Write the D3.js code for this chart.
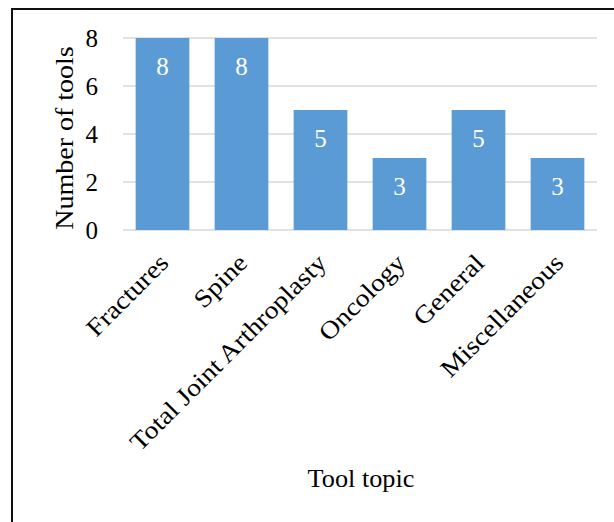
<!DOCTYPE html>
<html>
<head>
<meta charset="utf-8">
<script src="https://cdn.jsdelivr.net/npm/d3@7"></script>
<style>
  html, body { margin: 0; padding: 0; background: #fff; }
  svg { display: block; }
  text { font-family: "Liberation Serif", "DejaVu Serif", serif; }
</style>
</head>
<body>
<svg id="chart" width="614" height="522"></svg>
<script>
// Tools per topic
const categories = ["Fractures", "Spine", "Total Joint Arthroplasty", "Oncology", "General", "Miscellaneous"];
const toolCounts = [8, 8, 5, 3, 5, 3];
const yTicks = [0, 2, 4, 6, 8];
const yTitle = "Number of tools";
const xTitle = "Tool topic";

const svg = d3.select("#chart");
const fontSize = 25;

// book-style serif runs wider than the fallback face
function stretch(factor) {
  return sel => sel.each(function () {
    const w = this.getComputedTextLength();
    d3.select(this).attr("textLength", w * factor).attr("lengthAdjust", "spacingAndGlyphs");
  });
}

// outer frame (runs off the right and bottom edges)
svg.append("rect")
  .attr("x", 12).attr("y", 9)
  .attr("width", 640).attr("height", 560)
  .attr("fill", "none")
  .attr("stroke", "#111")
  .attr("stroke-width", 2);

const x = d3.scaleBand()
  .domain(categories)
  .range([123, 597])
  .paddingInner(0.32)
  .paddingOuter(0.16);

const y = d3.scaleLinear()
  .domain([0, 8])
  .range([230, 38]);

// horizontal gridlines
svg.append("g")
  .selectAll("line")
  .data(yTicks)
  .join("line")
  .attr("x1", 123).attr("x2", 597)
  .attr("y1", d => y(d)).attr("y2", d => y(d))
  .attr("stroke", "#d9d9d9")
  .attr("stroke-width", 1.5);

// y axis labels
const yAxis = d3.axisLeft(y).tickValues(yTicks).tickSize(0).tickPadding(0).tickFormat(d3.format("d"));
const gy = svg.append("g").attr("transform", "translate(98,0)").call(yAxis);
gy.select(".domain").remove();
gy.selectAll("text")
  .attr("font-size", fontSize)
  .attr("fill", "#000");

// bars
svg.append("g")
  .selectAll("rect")
  .data(categories)
  .join("rect")
  .attr("x", d => x(d))
  .attr("y", (d, i) => y(toolCounts[i]))
  .attr("width", x.bandwidth())
  .attr("height", (d, i) => y(0) - y(toolCounts[i]))
  .attr("fill", "#5b9bd5");

// value labels inside the bars
svg.append("g")
  .selectAll("text")
  .data(categories)
  .join("text")
  .attr("x", d => x(d) + x.bandwidth() / 2)
  .attr("y", (d, i) => y(toolCounts[i]) + 37)
  .attr("text-anchor", "middle")
  .attr("font-size", fontSize)
  .attr("fill", "#fff")
  .text((d, i) => toolCounts[i]);

// category labels, rotated
svg.append("g")
  .selectAll("text")
  .data(categories)
  .join("text")
  .attr("text-anchor", "end")
  .attr("font-size", fontSize)
  .attr("fill", "#000")
  .attr("transform", d => `translate(${x(d) + x.bandwidth() / 2 - 5},${252}) rotate(-45)`)
  .attr("dy", "0.7em")
  .text(d => d)
  .call(stretch(1.12));

// axis titles
svg.append("text")
  .attr("transform", "translate(73,138) rotate(-90)")
  .attr("text-anchor", "middle")
  .attr("font-size", fontSize)
  .attr("fill", "#000")
  .text(yTitle)
  .call(stretch(1.12));

svg.append("text")
  .attr("x", 361).attr("y", 487)
  .attr("text-anchor", "middle")
  .attr("font-size", fontSize)
  .attr("fill", "#000")
  .text(xTitle)
  .call(stretch(1.05));
</script>
</body>
</html>
